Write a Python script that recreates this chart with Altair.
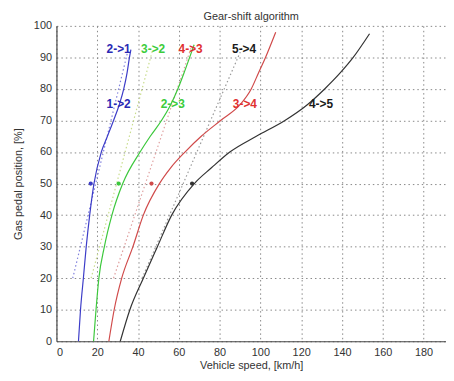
import altair as alt
import pandas as pd

# Upshift curves (solid): gas pedal position [%] vs vehicle speed [km/h]
up_12_y = [0, 10, 20, 30, 40, 50, 60, 65, 70, 75, 80, 85, 90, 92.5]
up_12_x = [10.8, 11.8, 13.2, 14.6, 16.3, 18.4, 22.0, 25.0, 28.0, 30.8, 33.0, 34.6, 35.8, 36.5]

up_23_y = [0, 10, 20, 30, 40, 50, 60, 65, 70, 75, 80, 85, 90, 94]
up_23_x = [18.2, 19.4, 20.8, 23.5, 27.2, 32.5, 41.0, 46.0, 51.5, 56.0, 59.5, 62.5, 65.3, 67.5]

up_34_y = [0, 10, 20, 30, 40, 50, 55, 60, 65, 70, 75, 80, 85, 90, 98]
up_34_x = [25.7, 28.3, 32.0, 37.5, 42.6, 50.5, 56.0, 63.0, 71.0, 80.5, 90.0, 95.5, 99.0, 102.5, 107.5]

up_45_y = [0, 10, 20, 30, 40, 50, 55, 60, 65, 70, 75, 80, 85, 90, 97.5]
up_45_x = [31.3, 36.0, 42.6, 49.5, 56.5, 67.6, 76.0, 85.0, 98.0, 112.0, 123.0, 131.5, 139.0, 145.5, 153.5]

# Downshift lines (dotted)
dn_21_x = [8, 35]
dn_21_y = [20, 92]
dn_32_x = [17, 47]
dn_32_y = [20, 92]
dn_43_x = [28, 66]
dn_43_y = [20, 93]
dn_54_x = [42, 91]
dn_54_y = [20, 93]

# Operating points at 50 %
pt_names = ["g1", "g2", "g3", "g4"]
pt_x = [16.8, 30.5, 46.6, 66.5]
pt_y = [50, 50, 50, 50]

# Labels
lab_text = ["2->1", "3->2", "4->3", "5->4", "1->2", "2->3", "3->4", "4->5"]
lab_x = [30.5, 47.4, 65.8, 92.0, 30.5, 57.0, 92.4, 129.7]
lab_y = [92.8, 92.8, 92.8, 92.8, 75.2, 75.2, 75.2, 75.2]
lab_grp = ["g1", "g2", "g3", "g4", "g1", "g2", "g3", "g4"]

chart_title = ["Gear-shift algorithm"]

x_ticks = [0, 20, 40, 60, 80, 100, 120, 140, 160, 180]
y_ticks = [0, 10, 20, 30, 40, 50, 60, 70, 80, 90, 100]

def frame(xs, ys, name):
    return pd.DataFrame({"x": xs, "y": ys, "name": name, "order": range(len(xs))})

up = pd.concat([
    frame(up_12_x, up_12_y, "g1"),
    frame(up_23_x, up_23_y, "g2"),
    frame(up_34_x, up_34_y, "g3"),
    frame(up_45_x, up_45_y, "g4"),
])
dn = pd.concat([
    frame(dn_21_x, dn_21_y, "g1"),
    frame(dn_32_x, dn_32_y, "g2"),
    frame(dn_43_x, dn_43_y, "g3"),
    frame(dn_54_x, dn_54_y, "g4"),
])
pts = pd.DataFrame({"x": pt_x, "y": pt_y, "name": pt_names})
labs = pd.DataFrame({"x": lab_x, "y": lab_y, "name": lab_grp, "text": lab_text})
ttl = pd.DataFrame({"text": chart_title})

names = ["g1", "g2", "g3", "g4"]
solid_col = alt.Scale(domain=names, range=["#3c3cc8", "#3cc83c", "#d04a4a", "#333333"])
dot_col = alt.Scale(domain=names, range=["#8080dd", "#c8dc8c", "#e0a0a0", "#9a9a9a"])
text_col = alt.Scale(domain=names, range=["#2a2ab4", "#3ccc3c", "#e03030", "#1a1a1a"])

xs = alt.Scale(domain=[0, 191], nice=False)
ys = alt.Scale(domain=[0, 100], nice=False)

W, H = 394, 319

def xenc():
    return alt.X("x:Q", scale=xs, axis=alt.Axis(values=x_ticks, title="Vehicle speed, [km/h]"))

def yenc():
    return alt.Y("y:Q", scale=ys, axis=alt.Axis(values=y_ticks, tickCount=11,
                                                 title="Gas pedal position, [%]"))

solid = alt.Chart(up).mark_line(strokeWidth=1.2, interpolate="monotone").encode(
    x=xenc(), y=yenc(), order="order:Q",
    color=alt.Color("name:N", scale=solid_col, legend=None),
)
dotted = alt.Chart(dn).mark_line(strokeWidth=1.2, strokeDash=[1.5, 2.5]).encode(
    x=xenc(), y=yenc(), order="order:Q",
    color=alt.Color("name:N", scale=dot_col, legend=None),
)
points = alt.Chart(pts).mark_point(filled=True, size=18, shape="circle", opacity=1).encode(
    x=xenc(), y=yenc(),
    color=alt.Color("name:N", scale=solid_col, legend=None),
)
texts = alt.Chart(labs).mark_text(fontSize=12, fontWeight="bold", font="Liberation Sans").encode(
    x=xenc(), y=yenc(), text="text:N",
    color=alt.Color("name:N", scale=text_col, legend=None),
)
title_mark = alt.Chart(ttl).mark_text(fontSize=11, font="Liberation Sans", color="#333333",
                                      baseline="top", align="center").encode(
    x=alt.value(W / 2), y=alt.value(-15), text="text:N",
)

chart = alt.layer(dotted, solid, points, texts, title_mark).resolve_scale(color="independent").properties(
    width=W,
    height=H,
    autosize=alt.AutoSizeParams(type="none"),
    padding={"left": 49, "top": 16, "right": 0, "bottom": 30},
).configure_view(stroke=None).configure_axis(
    grid=True,
    gridColor="#888888",
    gridDash=[1.5, 3],
    gridWidth=1,
    domainColor="#444444",
    domainWidth=1.2,
    ticks=False,
    labelFont="Liberation Sans",
    labelFontSize=11,
    labelColor="#333333",
    labelPadding=5,
    labelOverlap=False,
    titleFont="Liberation Sans",
    titleFontSize=11,
    titleFontWeight="normal",
    titleColor="#333333",
).configure_axisX(titlePadding=3, labelPadding=5).configure_axisY(titlePadding=10)

chart.save("out.html", embed_options={"renderer": "svg", "actions": False})
